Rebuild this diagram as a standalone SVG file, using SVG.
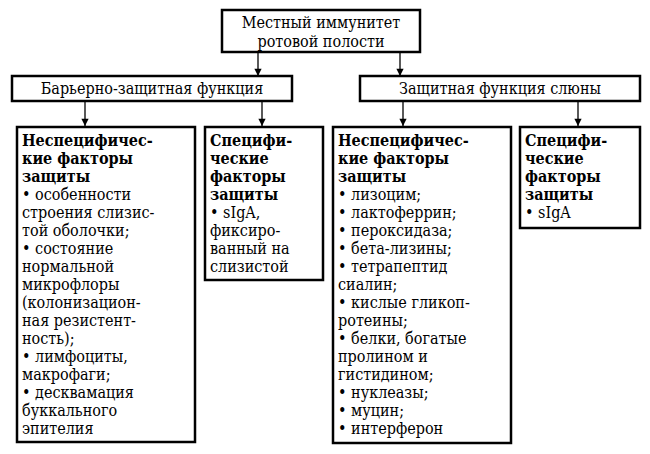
<svg xmlns="http://www.w3.org/2000/svg" width="650" height="454" viewBox="0 0 650 454">
<defs><marker id="a" viewBox="0 0 8 10" refX="8" refY="5" markerWidth="6" markerHeight="7" orient="auto"><path d="M0,1 L8,5 L0,9 z" fill="#000"/></marker>
<style>
rect{fill:#fff;stroke:#000;stroke-width:2.5}
text{font-family:'DejaVu Serif Condensed','DejaVu Serif','Liberation Serif',serif;font-size:16px;fill:#000}
.b{font-weight:bold}
.c line{stroke:#000;stroke-width:1.3;marker-end:url(#a)}
</style></defs>
<rect width="650" height="454" style="stroke:none"/>
<g class="c">
<line x1="258" y1="52" x2="258" y2="76"/><line x1="400" y1="52" x2="400" y2="76"/>
<line x1="85" y1="101" x2="85" y2="126"/><line x1="262" y1="101" x2="262" y2="126"/>
<line x1="403" y1="101" x2="403" y2="126"/><line x1="578" y1="101" x2="578" y2="126"/>
</g>
<g id="top"><rect x="222" y="10" width="198" height="42"/><text x="321" y="28" text-anchor="middle">Местный иммунитет</text><text x="321" y="47" text-anchor="middle">ротовой полости</text></g>
<g id="barrier"><rect x="12" y="76" width="280" height="25"/><text x="152" y="94" text-anchor="middle">Барьерно-защитная функция</text></g>
<g id="saliva"><rect x="360" y="76" width="280" height="25"/><text x="500" y="94" text-anchor="middle">Защитная функция слюны</text></g>
<g id="n1"><rect x="17" y="127" width="178" height="315"/>
<text><tspan class="b" x="22" y="146">Неспецифичес-</tspan><tspan class="b" x="22" y="164">кие факторы</tspan><tspan class="b" x="22" y="182">защиты</tspan><tspan x="22" y="200">• особенности</tspan><tspan x="22" y="218">строения слизис-</tspan><tspan x="22" y="236">той оболочки;</tspan><tspan x="22" y="254">• состояние</tspan><tspan x="22" y="272">нормальной</tspan><tspan x="22" y="290">микрофлоры</tspan><tspan x="22" y="308">(колонизацион-</tspan><tspan x="22" y="326">ная резистент-</tspan><tspan x="22" y="344">ность);</tspan><tspan x="22" y="362">• лимфоциты,</tspan><tspan x="22" y="380">макрофаги;</tspan><tspan x="22" y="398">• десквамация</tspan><tspan x="22" y="416">буккального</tspan><tspan x="22" y="434">эпителия</tspan></text></g>
<g id="s1"><rect x="205" y="127" width="118" height="153"/>
<text><tspan class="b" x="210" y="146">Специфи-</tspan><tspan class="b" x="210" y="164">ческие</tspan><tspan class="b" x="210" y="182">факторы</tspan><tspan class="b" x="210" y="200">защиты</tspan><tspan x="210" y="218">• sIgA,</tspan><tspan x="210" y="236">фиксиро-</tspan><tspan x="210" y="254">ванный на</tspan><tspan x="210" y="272">слизистой</tspan></text></g>
<g id="n2"><rect x="333" y="127" width="178" height="316"/>
<text><tspan class="b" x="338" y="146">Неспецифичес-</tspan><tspan class="b" x="338" y="164">кие факторы</tspan><tspan class="b" x="338" y="182">защиты</tspan><tspan x="338" y="200">• лизоцим;</tspan><tspan x="338" y="218">• лактоферрин;</tspan><tspan x="338" y="236">• пероксидаза;</tspan><tspan x="338" y="254">• бета-лизины;</tspan><tspan x="338" y="272">• тетрапептид</tspan><tspan x="338" y="290">сиалин;</tspan><tspan x="338" y="308">• кислые гликоп-</tspan><tspan x="338" y="326">ротеины;</tspan><tspan x="338" y="344">• белки, богатые</tspan><tspan x="338" y="362">пролином и</tspan><tspan x="338" y="380">гистидином;</tspan><tspan x="338" y="398">• нуклеазы;</tspan><tspan x="338" y="416">• муцин;</tspan><tspan x="338" y="434">• интерферон</tspan></text></g>
<g id="s2"><rect x="520" y="127" width="120" height="101"/>
<text><tspan class="b" x="525" y="146">Специфи-</tspan><tspan class="b" x="525" y="164">ческие</tspan><tspan class="b" x="525" y="182">факторы</tspan><tspan class="b" x="525" y="200">защиты</tspan><tspan x="525" y="218">• sIgA</tspan></text></g>
</svg>
